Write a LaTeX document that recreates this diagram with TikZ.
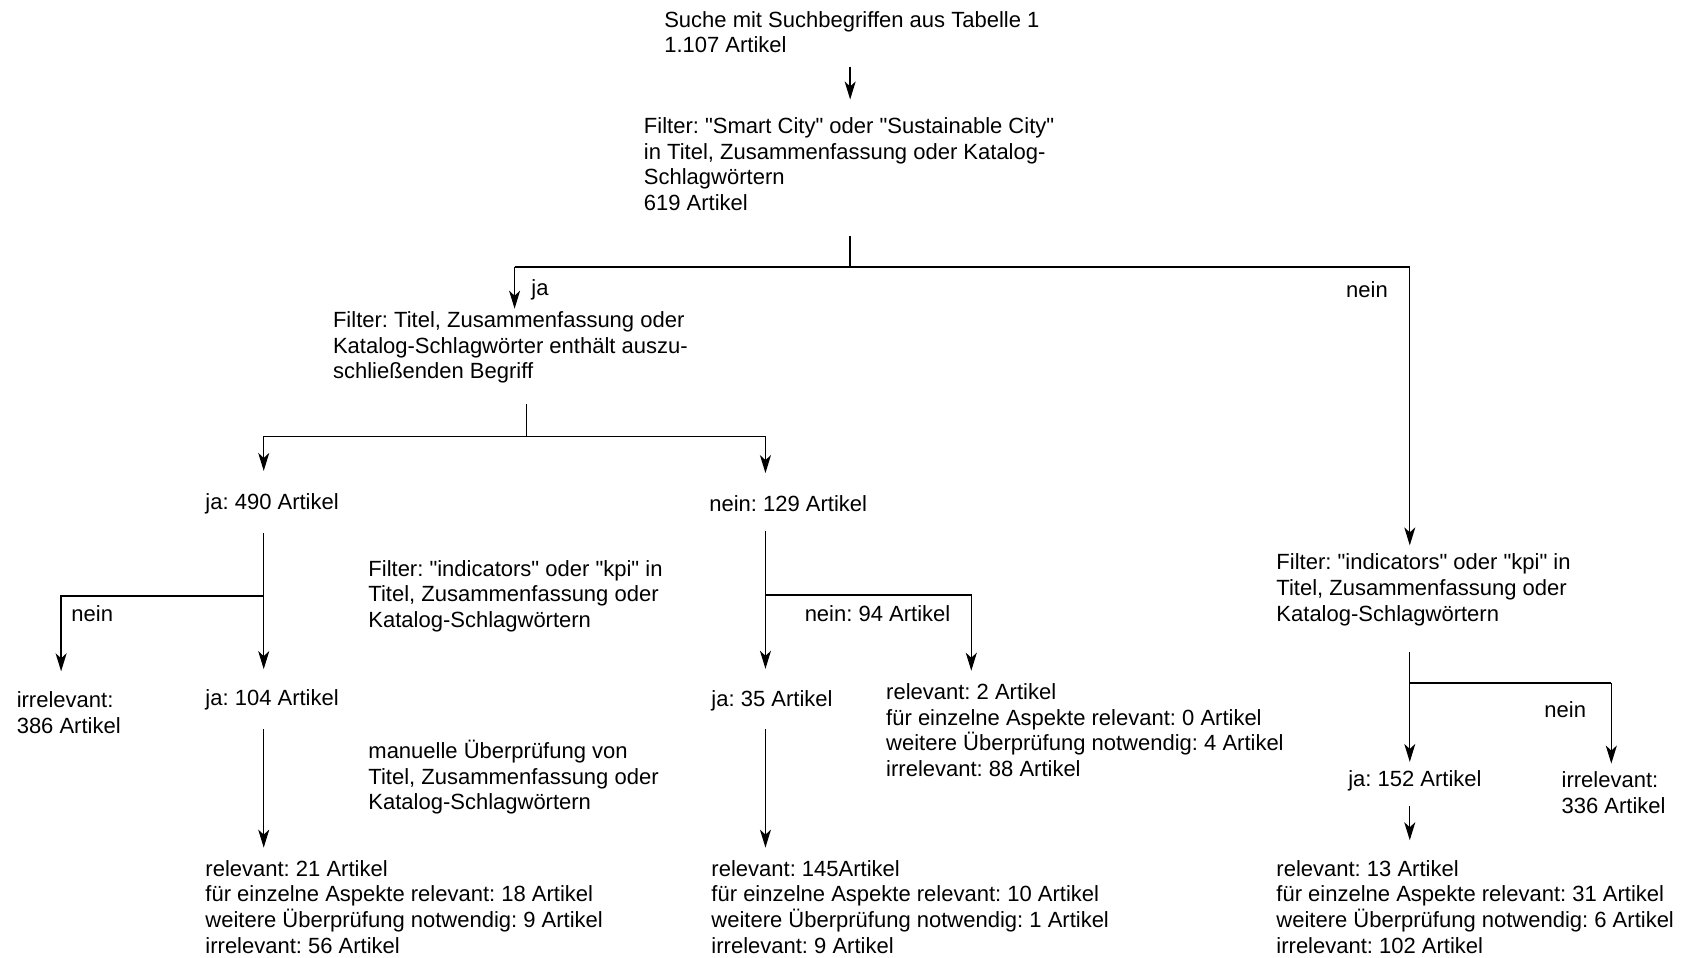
\documentclass[tikz,border=0pt]{standalone}
\usepackage{fontspec}
\setmainfont{Liberation Sans}[Ligatures=TeXOff]
\frenchspacing
\usetikzlibrary{arrows.meta,calc,positioning}
\tikzset{
    txt/.style={align=left, inner sep=0pt, anchor=west, font=\fontsize{11}{12.86}\selectfont},
    arr/.style={-{Stealth[length=9pt,width=5.5pt,inset=2.5pt]}},
}

\begin{document}
\begin{tikzpicture}[x=0.536pt,y=-0.536pt,line width=0.7pt]
    \useasboundingbox (0,0) rectangle (1568,893);

    % Draw the text blocks.
    \node[txt] (top) at (619,30) {Suche mit Suchbegriffen aus Tabelle 1\\1.107 Artikel};
    \node[txt] (filterA) at (600,153) {Filter: "Smart City" oder "Sustainable City"\\in Titel, Zusammenfassung oder Katalog-\\Schlagwörtern\\619 Artikel};
    \node[txt] (filterB) at (310,324) {Filter: Titel, Zusammenfassung oder\\Katalog-Schlagwörter enthält auszu-\\schließenden Begriff};
    \node[txt] (ja490) at (191,470) {ja: 490 Artikel};
    \node[txt] (nein129) at (661,470) {nein: 129 Artikel};
    \node[txt] (filterI) at (343,556) {Filter: "indicators" oder "kpi" in\\Titel, Zusammenfassung oder\\Katalog-Schlagwörtern};
    \node[txt] (irr386) at (15,665) {irrelevant:\\386 Artikel};
    \node[txt] (ja104) at (191,653) {ja: 104 Artikel};
    \node[txt] (manuell) at (343,725) {manuelle Überprüfung von\\Titel, Zusammenfassung oder\\Katalog-Schlagwörtern};
    \node[txt] (relL) at (191,846) {relevant: 21 Artikel\\für einzelne Aspekte relevant: 18 Artikel\\weitere Überprüfung notwendig: 9 Artikel\\irrelevant: 56 Artikel};
    \node[txt] (ja35) at (663,654) {ja: 35 Artikel};
    \node[txt] (rel2) at (826,681) {relevant: 2 Artikel\\für einzelne Aspekte relevant: 0 Artikel\\weitere Überprüfung notwendig: 4 Artikel\\irrelevant: 88 Artikel};
    \node[txt] (relM) at (663,846) {relevant: 145Artikel\\für einzelne Aspekte relevant: 10 Artikel\\weitere Überprüfung notwendig: 1 Artikel\\irrelevant: 9 Artikel};
    \node[txt] (filterC) at (1190,550) {Filter: "indicators" oder "kpi" in\\Titel, Zusammenfassung oder\\Katalog-Schlagwörtern};
    \node[txt] (ja152) at (1257,728) {ja: 152 Artikel};
    \node[txt] (irr336) at (1456,739.5) {irrelevant:\\336 Artikel};
    \node[txt] (relR) at (1190,846) {relevant: 13 Artikel\\für einzelne Aspekte relevant: 31 Artikel\\weitere Überprüfung notwendig: 6 Artikel\\irrelevant: 102 Artikel};

    % Draw branch labels.
    \node[txt] (lja) at (495,270) {ja};
    \node[txt] (lneinA) at (1255,270) {nein};
    \node[txt] (lneinC) at (66,572) {nein};
    \node[txt] (lneinD) at (750,572) {nein: 94 Artikel};
    \node[txt] (lneinE) at (1440,662) {nein};

    % Branch points.
    \coordinate (sA) at (793,249);
    \coordinate (cAl) at (480,249);
    \coordinate (cAr) at (1315,249);
    \coordinate (sB) at (491,407);
    \coordinate (cBl) at (246,407);
    \coordinate (cBr) at (714,407);
    \coordinate (sC) at (246,556);
    \coordinate (cCl) at (57,556);
    \coordinate (sD) at (714,555);
    \coordinate (cDr) at (906,555);
    \coordinate (sE) at (1315,637);
    \coordinate (cEr) at (1503,637);

    % Draw first split.
    \draw[arr, shorten <=6.4pt, shorten >=8.6pt] (top.south -| sA) -- (filterA.north -| sA);
    \draw[shorten <=12.3pt] (filterA.south -| sA) -- (sA);
    \draw (cAl) -- (cAr);
    \draw[arr, shorten >=1pt] (cAl) -- (cAl |- filterB.north);
    \draw[arr, shorten >=3.8pt] (cAr) -- (cAr |- filterC.north);

    % Draw second split.
    \draw[shorten <=10pt] (filterB.south -| sB) -- (sB);
    \draw (cBl) -- (cBr);
    \foreach \C/\N in {cBl/ja490,cBr/nein129}
        \draw[arr, shorten >=11pt] (\C) -- (\C |- \N.north);

    % Draw left column.
    \draw[arr, shorten <=9pt, shorten >=10pt] (ja490.south -| sC) -- (ja104.north -| sC);
    \draw[arr, shorten >=10pt] (sC) -| (cCl |- irr386.north);
    \draw[arr, shorten <=9pt, shorten >=6pt] (ja104.south -| sC) -- (relL.north -| sC);

    % Draw middle column.
    \draw[arr, shorten <=9pt, shorten >=10.7pt] (nein129.south -| sD) -- (ja35.north -| sD);
    \draw[arr, shorten >=6pt] (sD) -| (cDr |- rel2.north);
    \draw[arr, shorten <=8.6pt, shorten >=6pt] (ja35.south -| sD) -- (relM.north -| sD);

    % Draw right column.
    \draw[shorten <=12.9pt] (filterC.south -| sE) -- (sE);
    \draw (sE) -- (cEr);
    \draw[arr, shorten >=3.8pt] (sE) -- (sE |- ja152.north);
    \draw[arr, shorten >=3.8pt] (cEr) -- (cEr |- irr336.north);
    \draw[arr, shorten <=7.5pt, shorten >=9.7pt] (ja152.south -| sE) -- (relR.north -| sE);

\end{tikzpicture}
\end{document}
